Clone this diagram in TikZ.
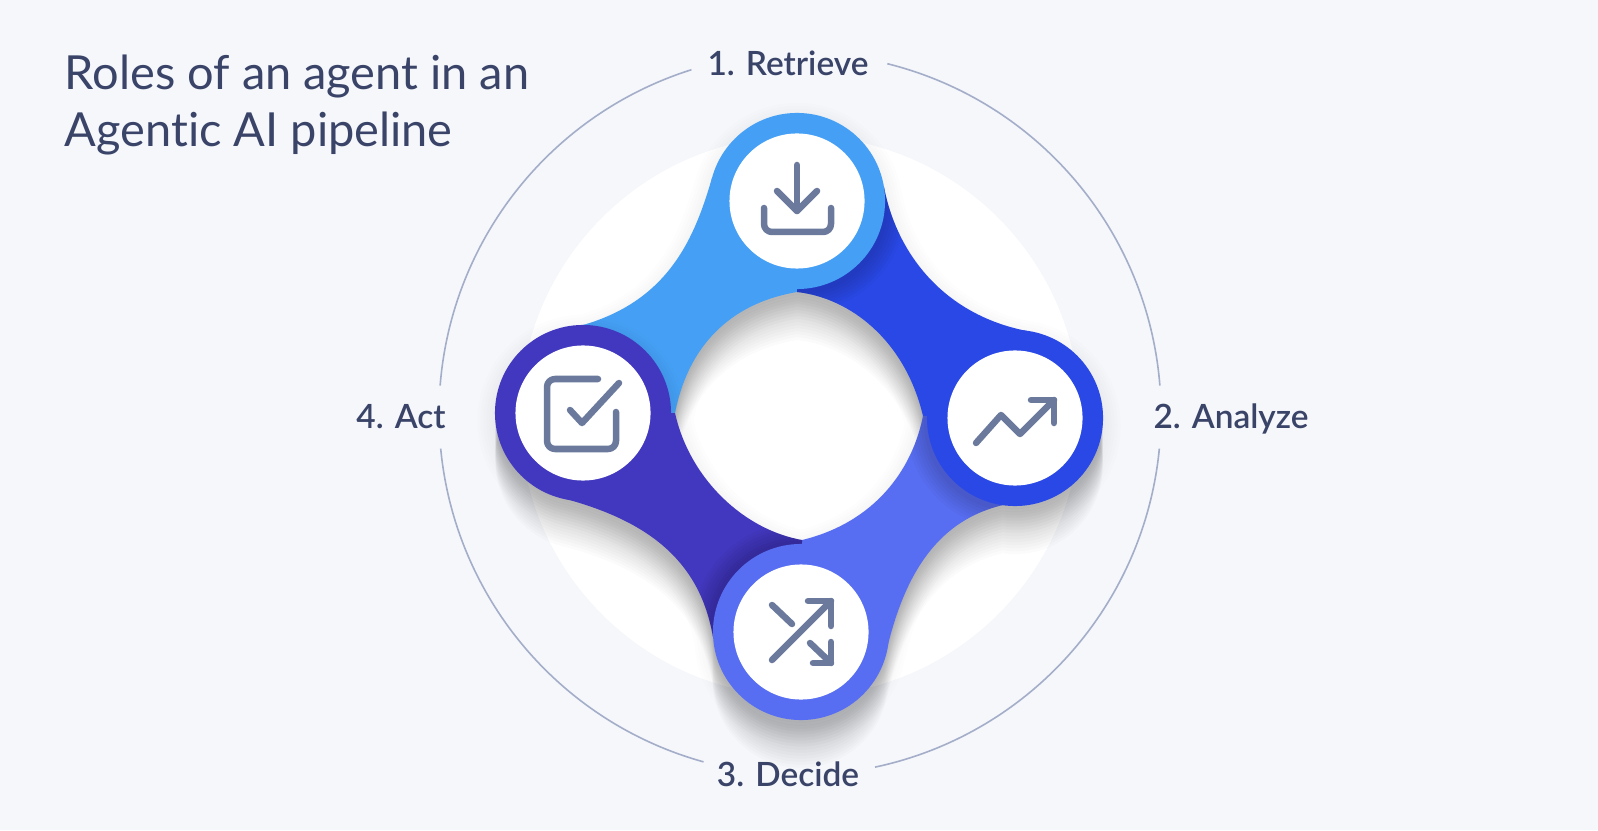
\documentclass[tikz,border=0pt]{standalone}
\usepackage{fontspec}
\setmainfont{Lato}
\newfontfamily\titlefont[Ligatures=NoCommon]{Lato}
\newfontfamily\stagefont[Ligatures=NoCommon]{Lato Semibold}
\usetikzlibrary{positioning}

\definecolor{pagebg}{HTML}{F5F7FB}
\definecolor{ringline}{HTML}{A4AEC9}
\definecolor{inktext}{HTML}{3A4468}
\definecolor{iconink}{HTML}{6B7A9C}
\definecolor{retrievecol}{HTML}{45A0F5}
\definecolor{analyzecol}{HTML}{2948E6}
\definecolor{decidecol}{HTML}{586EF2}
\definecolor{actcol}{HTML}{4238C0}

% the four ribbons, each from its own head to under the next head
\def\bandretrieve{(712,652) .. controls (695,594) and (670,530) .. (583,505) -- (583,417) -- (675,417)
  .. controls (690,492) and (738,528) .. (797,538) -- (797,629) -- cycle}
\def\bandanalyze{(1027,499) .. controls (945,515) and (897,575) .. (884,643) -- (797,629) -- (797,538)
  .. controls (850,532) and (905,490) .. (923,414) -- (1015,412) -- cycle}
\def\banddecide{(886,177) .. controls (905,260) and (940,310) .. (1003,325) -- (1015,412) -- (923,414)
  .. controls (910,350) and (865,305) .. (802,290) -- (801,198) -- cycle}
\def\bandact{(562,332) .. controls (650,309) and (700,268) .. (713,193) -- (801,198) -- (802,290)
  .. controls (745,300) and (690,350) .. (675,417) -- (583,417) -- cycle}
% outline of all of them together, hole included
\def\wholeshape{(712,652) arc[start angle=165,end angle=9,radius=88]
  .. controls (897,575) and (945,515) .. (1027,499) arc[start angle=82,end angle=-98,radius=88]
  .. controls (940,310) and (905,260) .. (886,177) arc[start angle=-14,end angle=-177,radius=88]
  .. controls (700,268) and (650,309) .. (562,332) arc[start angle=256,end angle=90,radius=88]
  .. controls (670,530) and (695,594) .. (712,652) -- cycle
  (797,538) .. controls (850,532) and (905,490) .. (923,414)
  .. controls (910,350) and (865,305) .. (802,290)
  .. controls (745,300) and (690,350) .. (675,417)
  .. controls (690,492) and (738,528) .. (797,538) -- cycle}

\tikzset{
  headdisc/.style={circle,inner sep=0pt,minimum size=1.76cm},
  facedisc/.style={circle,fill=white,inner sep=0pt,minimum size=1.35cm},
  stagelabel/.style={text=inktext,anchor=base,font=\stagefont\fontsize{9.5}{12}\selectfont,inner sep=0pt},
  iconline/.style={draw=iconink,line width=.065cm,line cap=round,line join=round}
}

\begin{document}
\begin{tikzpicture}[x=.01cm,y=.01cm]
  \useasboundingbox (0,0) rectangle (1598,830);
  \fill[pagebg] (0,0) rectangle (1598,830);

  \node[circle,fill=white,inner sep=0pt,minimum size=5.6cm] (backdisc) at (800,414) {};
  \coordinate (ringcentre) at (800,416);

  \node[align=left,anchor=west,text=inktext,inner sep=0pt,
        font=\titlefont\fontsize{13.35}{16.4}\selectfont] (title) at (64,725)
        {Roles of an agent in an\\Agentic AI pipeline};

  \node[stagelabel] (retrievetext) at (788,754) {1. Retrieve};
  \node[stagelabel] (analyzetext)  at (1231,402) {2. Analyze};
  \node[stagelabel] (decidetext)   at (788,44)  {3. Decide};
  \node[stagelabel] (acttext)      at (401,402) {4. Act};

  \foreach \from/\to in {76/4.5,-5.5/-78,-105.5/-174.5,175.5/107.5}
    \draw[ringline,line width=.016cm] (ringcentre) ++(\from:361) arc[start angle=\from,end angle=\to,radius=361];

  % soft shadow under the whole shape, falling downwards
  \foreach \k in {3,6,...,48}
    \fill[black,opacity=.015,even odd rule,shift={(0,-\k)}] \wholeshape;
  \foreach \w in {6,12,...,36}
    \draw[black,opacity=.007,line width=\w*.01cm,shift={(0,-8)}] \wholeshape;

  \fill[retrievecol] \bandretrieve;
  \fill[analyzecol]  \bandanalyze;
  \fill[decidecol]   \banddecide;
  \fill[actcol]      \bandact;

  \coordinate (retrievepos) at (797,629);
  \coordinate (analyzepos)  at (1015,412);
  \coordinate (decidepos)   at (801,198);
  \coordinate (actpos)      at (583,417);

  % each head throws a shadow on the next ribbon only
  \begin{scope}
    \clip \bandanalyze;
    \foreach \r in {88,91,...,106} \fill[black,opacity=.022] (retrievepos)++(3,-5) circle[radius=\r];
  \end{scope}
  \begin{scope}
    \clip \banddecide;
    \foreach \r in {88,91,...,106} \fill[black,opacity=.022] (analyzepos)++(-3,-5) circle[radius=\r];
  \end{scope}
  \begin{scope}
    \clip \bandact;
    \foreach \r in {88,91,...,106} \fill[black,opacity=.028] (decidepos)++(-3,3) circle[radius=\r];
  \end{scope}
  \begin{scope}
    \clip \bandretrieve;
    \foreach \r in {88,91,...,100} \fill[black,opacity=.012] (actpos)++(2,-3) circle[radius=\r];
  \end{scope}

  \node[headdisc,fill=retrievecol] (retrieve) at (retrievepos) {};
  \node[headdisc,fill=analyzecol]  (analyze)  at (analyzepos)  {};
  \node[headdisc,fill=decidecol]   (decide)   at (decidepos)   {};
  \node[headdisc,fill=actcol]      (act)      at (actpos)      {};

  \node[facedisc] (retrieveface) at (retrieve) {};
  \node[facedisc] (analyzeface)  at (analyze)  {};
  \node[facedisc] (decideface)   at (decide)   {};
  \node[facedisc] (actface)      at (act)      {};

  % icons
  \begin{scope}[shift={(retrieve)}]
    \draw[iconline] (0,36) -- (0,-10);
    \draw[iconline] (-20,10) -- (0,-10) -- (20,10);
    \draw[iconline,rounded corners=.08cm] (-33,-7) -- (-33,-31) -- (34,-31) -- (34,-7);
  \end{scope}
  \begin{scope}[shift={(analyze)}]
    \draw[iconline] (-39,-25) -- (-14,3) -- (5,-16) -- (39,18);
    \draw[iconline] (16,18) -- (39,18) -- (39,-5);
  \end{scope}
  \begin{scope}[shift={(decide)}]
    \draw[iconline] (-29,-28) -- (30,31);
    \draw[iconline] (7,31) -- (30,31) -- (30,6);
    \draw[iconline] (-29,27) -- (-9,8);
    \draw[iconline] (9,-11) -- (30,-31);
    \draw[iconline] (12,-31) -- (30,-31) -- (30,-10);
  \end{scope}
  \begin{scope}[shift={(act)}]
    \draw[iconline,rounded corners=.08cm] (15,34) -- (-36,34) -- (-36,-36) -- (33,-36) -- (33,1);
    \draw[iconline] (-13,3) -- (-1,-10) -- (36,30);
  \end{scope}
\end{tikzpicture}
\end{document}
